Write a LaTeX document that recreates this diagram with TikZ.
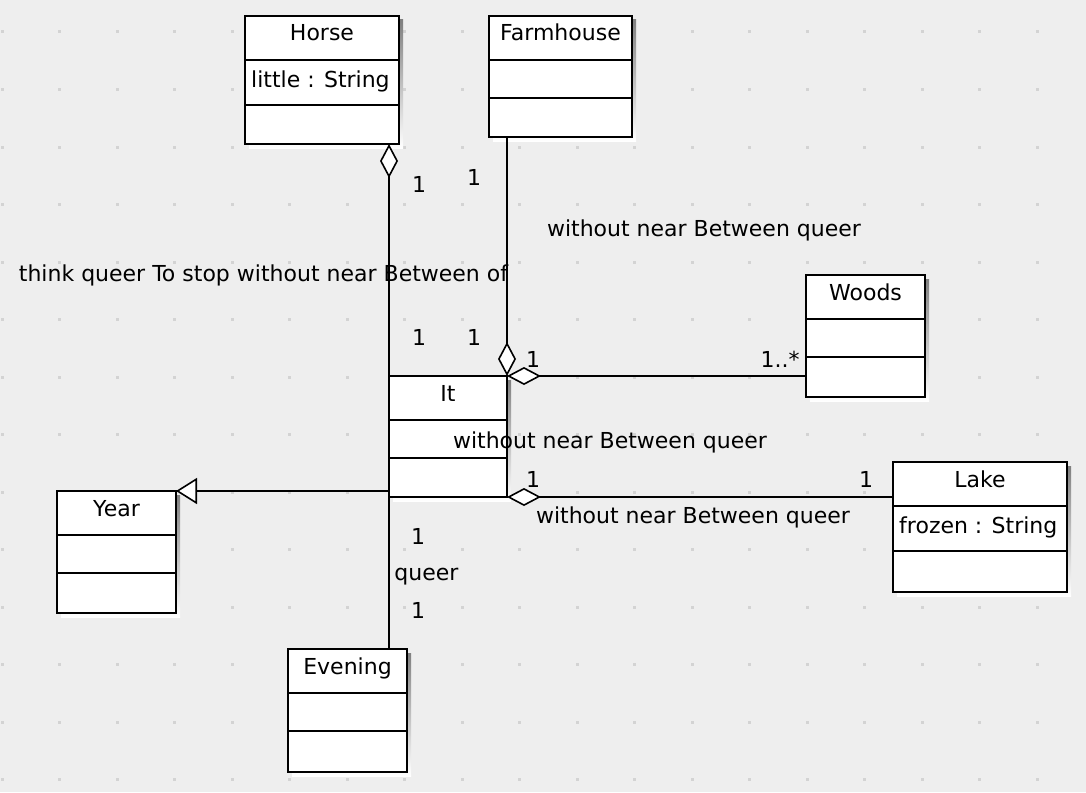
\documentclass[tikz,border=0pt]{standalone}
\usepackage{fontspec}
\setmainfont{DejaVu Sans}
\usetikzlibrary{arrows.meta}
\definecolor{canvas}{HTML}{EEEEEE}
\definecolor{griddot}{HTML}{D3D3D3}
\definecolor{shade}{HTML}{C8C8C8}

\begin{document}
\begin{tikzpicture}[x=1pt,y=-1pt,line join=miter,
    font=\fontsize{22}{25}\selectfont,
    umlbox/.style={draw,fill=white,line width=2pt,inner sep=0pt,outer sep=0pt},
    divider/.style={line width=1.4pt},
    title/.style={anchor=base,inner sep=0pt},
    attr/.style={anchor=base west,inner sep=0pt},
    lbl/.style={anchor=base,inner sep=0pt},
    assoc/.style={line width=1.8pt},
    aggr/.style={assoc,{Diamond[length=34pt,width=18pt,fill=white,line width=1.6pt]}-},
    inherit/.style={assoc,-{Triangle[length=21pt,width=26pt,fill=white,line width=1.6pt]}}]
        % Canvas and dotted grid
        \fill[canvas] (0,0) rectangle (1086,792);
        \foreach \i in {0,...,18}
          \foreach \j in {0,...,13}
            \fill[griddot] ({2+57.5*\i-1.5},{32+57.5*\j-1.5}) rectangle ++(3,3);

        % Helper macro for one class: (name, left, top, right, bottom, line1, line2, title)
        \newcommand{\umlclass}[8]{%
          \fill[shade] (#2+4,#3+4) rectangle (#4+4,#5+4);
          \node[umlbox,minimum width={#4pt-#2pt},minimum height={#5pt-#3pt}]
            (#1) at ({(#2+#4)/2},{(#3+#5)/2}) {};
          \draw[divider] (#2,#6) -- (#4,#6);
          \draw[divider] (#2,#7) -- (#4,#7);
          \node[title] (#1-name) at ({(#2+#4)/2},#3+25) {#8};
        }

        % Classes
        \umlclass{horse}{245}{16}{399}{144}{60}{105}{Horse}
        \umlclass{farmhouse}{489}{16}{632}{137}{60}{98}{Farmhouse}
        \umlclass{woods}{806}{275}{925}{397}{319}{357}{Woods}
        \umlclass{it}{389}{376}{507}{497}{420}{458}{It}
        \umlclass{year}{57}{491}{176}{613}{535}{573}{Year}
        \umlclass{lake}{893}{462}{1067}{592}{506}{551}{Lake}
        \umlclass{evening}{288}{649}{407}{772}{693}{731}{Evening}
        \node[attr] (horse-attr) at (251,87) {little : String};
        \node[attr] (lake-attr) at (899,533) {frozen : String};

        % Connectors
        \draw[aggr] (horse.south -| it.north west) -- (it.north west);
        \draw[aggr] (it.north east) -- (it.north east |- farmhouse.south);
        \draw[aggr] (it.north east) -- (it.north east -| woods.west);
        \draw[aggr] (it.south east) -- (it.south east -| lake.west);
        \draw[inherit] (it.west |- year.north east) -- (year.north east);
        \draw[assoc] (it.south west) -- (it.south west |- evening.north);

        % Role names and multiplicities
        \node[lbl] (horse-m) at (419,192) {1};
        \node[lbl] (it-horse-m) at (419,345) {1};
        \node[lbl] (horse-role) at (263.5,281) {think queer To stop without near Between of};
        \node[lbl] (farmhouse-m) at (474,185) {1};
        \node[lbl] (it-farmhouse-m) at (474,345) {1};
        \node[lbl] (farmhouse-role) at (704,236) {without near Between queer};
        \node[lbl] (it-woods-m) at (533,367) {1};
        \node[lbl] (woods-m) at (780,367) {1..*};
        \node[lbl] (woods-role) at (610,448) {without near Between queer};
        \node[lbl] (it-lake-m) at (533,487) {1};
        \node[lbl] (lake-m) at (866,487) {1};
        \node[lbl] (lake-role) at (693,523) {without near Between queer};
        \node[lbl] (it-evening-m) at (418,544) {1};
        \node[lbl] (evening-role) at (426.5,580) {queer};
        \node[lbl] (evening-m) at (418,618) {1};
      \end{tikzpicture}
\end{document}
